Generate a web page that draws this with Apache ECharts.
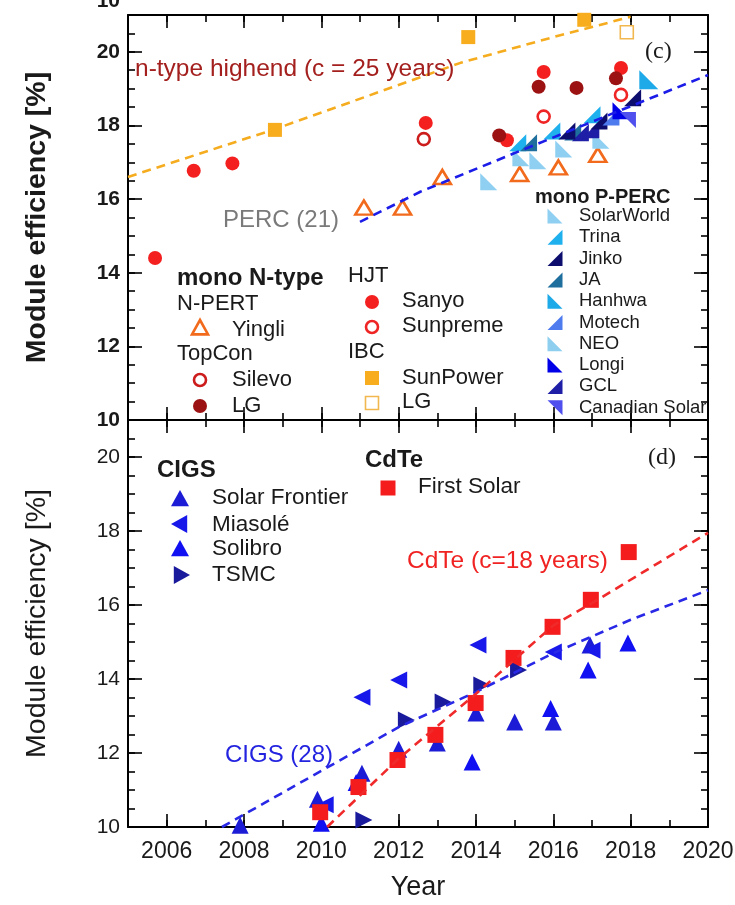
<!DOCTYPE html>
<html>
<head>
<meta charset="utf-8">
<script src="https://cdn.jsdelivr.net/npm/echarts@6/dist/echarts.min.js"></script>
<style>
  html, body { margin: 0; padding: 0; background: #fff; }
  #chart { width: 735px; height: 905px; }
</style>
</head>
<body>
<div id="chart"></div>
<script>
// ---------- tick labels ----------
const yearTicks = [2006, 2008, 2010, 2012, 2014, 2016, 2018, 2020];
const effTicks = [10, 12, 14, 16, 18, 20];

// ---------- panel (c): crystalline silicon modules, [year, efficiency %] ----------
const sanyo = [[2005.7, 14.4], [2006.7, 16.77], [2007.7, 16.97], [2012.7, 18.07], [2014.8, 17.6], [2015.75, 19.45], [2017.75, 19.56]];
const sunpreme = [[2015.75, 18.24], [2017.75, 18.83]];
const silevo = [[2012.65, 17.63]];
const lgTopCon = [[2014.6, 17.73], [2015.62, 19.05], [2016.6, 19.02], [2017.62, 19.28]];
const sunPower = [[2008.8, 17.88], [2013.8, 20.4], [2016.8, 20.87]];
const lgIbc = [[2017.9, 20.53]];
const yingli = [[2011.1, 15.77], [2012.1, 15.77], [2013.13, 16.6], [2015.13, 16.68], [2016.13, 16.86], [2017.15, 17.2]];

const solarWorld = [[2014.33, 16.47], [2015.6, 17.04], [2016.27, 17.36], [2017.23, 17.6]];
const trina = [[2015.08, 17.53], [2015.96, 17.85], [2017.0, 18.29]];
const jinko = [[2016.35, 17.85], [2017.18, 18.12], [2018.05, 18.75]];
const ja = [[2015.36, 17.53], [2016.5, 17.82]];
const hanhwa = [[2018.47, 19.24]];
const motech = [[2017.49, 18.23]];
const neo = [[2015.16, 17.12]];
const longi = [[2017.75, 18.4]];
const gcl = [[2016.7, 17.8], [2016.97, 17.88]];
const canadianSolar = [[2017.93, 18.15]];

const nTypeTrend = [[2005, 16.6], [2008.8, 17.9], [2013.6, 19.7], [2016, 20.4], [2018, 20.95]];
const percTrend = [[2011, 15.38], [2012.56, 16.2], [2015, 17.25], [2020, 19.37]];

// ---------- panel (d): thin-film modules ----------
const firstSolar = [[2009.97, 10.4], [2010.96, 11.08], [2011.97, 11.81], [2012.95, 12.49], [2013.99, 13.35], [2014.97, 14.57], [2015.98, 15.41], [2016.97, 16.14], [2017.95, 17.43]];
const solarFrontier = [[2007.9, 10.05], [2009.9, 10.75], [2011.05, 11.45], [2012.0, 12.1], [2013.0, 12.27], [2014.0, 13.08], [2015.0, 12.84], [2016.0, 12.84], [2016.95, 14.92]];
const solibro = [[2010.0, 10.1], [2010.9, 11.2], [2013.9, 11.76], [2015.93, 13.2], [2016.9, 14.24], [2017.93, 14.97]];
const miasole = [[2010.1, 10.6], [2011.05, 13.51], [2012.0, 13.97], [2014.05, 14.92], [2016.0, 14.73], [2017.0, 14.78]];
const tsmc = [[2011.1, 10.19], [2012.2, 12.89], [2013.15, 13.38], [2014.15, 13.84], [2015.1, 14.24]];

const cdteTrend = [[2010.15, 10.0], [2012, 11.85], [2014, 13.6], [2016, 15.45], [2017, 16.05], [2020, 17.95]];
const cigsTrend = [[2007.43, 10.0], [2012, 12.7], [2014, 13.65], [2016, 14.7], [2018, 15.6], [2020, 16.4]];

// ---------- styling helpers ----------
const FONT = '"Liberation Sans", Arial, Helvetica, sans-serif';
const SERIF = '"Liberation Serif", "Times New Roman", serif';
const RIGHT_TRI = {
  bl: 'path://M0,0L0,10L10,10Z',
  br: 'path://M10,0L10,10L0,10Z',
  tr: 'path://M0,0L10,0L10,10Z'
};

function panelAxes(grid, bold, withYears) {
  const line = { show: true, onZero: false, lineStyle: { color: '#000', width: 2 } };
  const noLine = { show: false, onZero: false };
  const tick = (len, vals) => Object.assign({ show: true, inside: true, length: len, lineStyle: { color: '#000', width: 1.6 } }, vals ? { customValues: vals } : {});
  const xs = [], ys = [];
  ['bottom', 'top'].forEach(pos => {
    xs.push({ type: 'value', gridIndex: grid, position: pos, min: 2005, max: 2020, interval: 1,
      axisLine: line, axisTick: tick(7), axisLabel: { show: false }, splitLine: { show: false } });
    const major = { type: 'value', gridIndex: grid, position: pos, min: 2005, max: 2020, interval: 1,
      axisLine: noLine, axisTick: tick(13, yearTicks), axisLabel: { show: false }, splitLine: { show: false } };
    if (pos === 'bottom' && withYears) {
      major.axisLabel = { show: true, customValues: yearTicks, formatter: v => String(v),
        fontSize: 23, color: '#1a1a1a', fontFamily: FONT, margin: 13 };
      major.name = 'Year';
      major.nameLocation = 'middle';
      major.nameGap = 47;
      major.nameTextStyle = { fontSize: 27, color: '#1a1a1a', fontFamily: FONT };
    }
    xs.push(major);
  });
  ['left', 'right'].forEach(pos => {
    ys.push({ type: 'value', gridIndex: grid, position: pos, min: 10, max: 21, interval: 0.5,
      axisLine: line, axisTick: tick(7), axisLabel: { show: false }, splitLine: { show: false } });
    const major = { type: 'value', gridIndex: grid, position: pos, min: 10, max: 21, interval: 0.5,
      axisLine: noLine, axisTick: tick(14, effTicks), axisLabel: { show: false }, splitLine: { show: false } };
    if (pos === 'left') {
      major.axisLabel = { show: true, customValues: effTicks, fontSize: 21, fontWeight: bold ? 'bold' : 'normal',
        color: '#1a1a1a', fontFamily: FONT, margin: 8 };
      major.name = 'Module efficiency [%]';
      major.nameLocation = 'middle';
      major.nameGap = 76;
      major.nameRotate = 90;
      major.nameTextStyle = { fontSize: 28.5, fontWeight: bold ? 'bold' : 'normal', color: '#1a1a1a', fontFamily: FONT };
    }
    ys.push(major);
  });
  return { xs, ys };
}

function scatter(name, data, axis, symbol, size, color, extra) {
  return Object.assign({
    name, type: 'scatter', data, xAxisIndex: axis, yAxisIndex: axis,
    symbol, symbolSize: size, itemStyle: { color, opacity: 1 }, z: 3, silent: true
  }, extra || {});
}
function hollow(name, data, axis, symbol, size, color, width) {
  return scatter(name, data, axis, symbol, size, color, {
    itemStyle: { color: '#fff', borderColor: color, borderWidth: width, opacity: 1 }
  });
}
function trend(name, data, axis, color, z) {
  return { name, type: 'line', data, xAxisIndex: axis, yAxisIndex: axis, symbol: 'none', silent: true,
    lineStyle: { color, width: 2.6, type: [9, 6] }, z };
}

const axesC = panelAxes(0, true, false);
const axesD = panelAxes(1, false, true);

// x/y axis index of panel (d) starts after the four axes of panel (c)
const P1 = 0, P2 = 4;

const series = [
  trend('n-type highend', nTypeTrend, P1, '#f5ac1f', 2),
  scatter('Sanyo', sanyo, P1, 'circle', 14, '#f41f1f'),
  hollow('Sunpreme', sunpreme, P1, 'circle', 12, '#ef2525', 2.6),
  hollow('Silevo', silevo, P1, 'circle', 12, '#cc1c1c', 2.6),
  scatter('LG TopCon', lgTopCon, P1, 'circle', 14, '#9c1212'),
  scatter('SunPower', sunPower, P1, 'rect', 14, '#f7ad1e'),
  hollow('LG IBC', lgIbc, P1, 'rect', 13, '#f2b850', 1.6),
  hollow('Yingli', yingli, P1, 'triangle', [17, 14], '#f26a1c', 2.6),
  scatter('SolarWorld', solarWorld, P1, RIGHT_TRI.bl, 17, '#8fd0f2'),
  scatter('NEO', neo, P1, RIGHT_TRI.bl, 17, '#8ecff0'),
  scatter('Trina', trina, P1, RIGHT_TRI.br, 17, '#1fb0ee'),
  scatter('JA', ja, P1, RIGHT_TRI.br, 17, '#1f6f9e'),
  scatter('GCL', gcl, P1, RIGHT_TRI.br, 17, '#1e1ea6'),
  scatter('Jinko', jinko, P1, RIGHT_TRI.br, 17, '#0d0d6e'),
  scatter('Motech', motech, P1, RIGHT_TRI.br, 17, '#4e7bee'),
  scatter('Longi', longi, P1, RIGHT_TRI.bl, 17, '#0000e8'),
  scatter('Canadian Solar', canadianSolar, P1, RIGHT_TRI.tr, 16, '#5050ee'),
  scatter('Hanhwa', hanhwa, P1, RIGHT_TRI.bl, 19, '#1ea9e8'),
  trend('PERC', percTrend, P1, '#1c1ce8', 4),

  scatter('Solar Frontier', solarFrontier, P2, 'triangle', 17, '#1c1cd6'),
  scatter('Solibro', solibro, P2, 'triangle', 17, '#1010f2'),
  scatter('Miasolé', miasole, P2, 'triangle', 17, '#1818ea', { symbolRotate: 90 }),
  scatter('First Solar', firstSolar, P2, 'rect', 16, '#f41c1c'),
  scatter('TSMC', tsmc, P2, 'triangle', 17, '#1a1a9c', { symbolRotate: -90 }),
  trend('CIGS', cigsTrend, P2, '#2828e6', 4),
  trend('CdTe', cdteTrend, P2, '#f02a2a', 4)
];

// ---------- legend blocks and annotations ----------
function icon(kind, cx, cy, s, color, empty, lw) {
  const h = s / 2;
  const style = empty ? { fill: '#fff', stroke: color, lineWidth: lw || 2.5 } : { fill: color };
  if (kind === 'circle') return { type: 'circle', shape: { cx, cy, r: h }, style, z: 50 };
  if (kind === 'rect') return { type: 'rect', shape: { x: cx - h, y: cy - h, width: s, height: s }, style, z: 50 };
  const pts = {
    up: [[cx, cy - h], [cx + h, cy + h * 0.8], [cx - h, cy + h * 0.8]],
    left: [[cx - h, cy], [cx + h * 0.8, cy - h], [cx + h * 0.8, cy + h]],
    right: [[cx + h, cy], [cx - h * 0.8, cy - h], [cx - h * 0.8, cy + h]],
    bl: [[cx - h, cy - h], [cx - h, cy + h], [cx + h, cy + h]],
    br: [[cx + h, cy - h], [cx + h, cy + h], [cx - h, cy + h]],
    tr: [[cx - h, cy - h], [cx + h, cy - h], [cx + h, cy + h]]
  }[kind];
  return { type: 'polygon', shape: { points: pts }, style, z: 50 };
}
function label(text, x, y, size, opts) {
  const o = opts || {};
  return { type: 'text', x, y, z: 60, silent: true,
    style: { text, fill: o.color || '#1a1a1a', fontSize: size, fontWeight: o.bold ? 'bold' : 'normal',
      fontFamily: o.family || FONT, align: o.align || 'left', verticalAlign: 'middle' } };
}

const graphics = [
  // label of the panel above, cut at the top edge
  label('10', 120, 1, 21, { bold: true, align: 'right' }),

  label('n-type highend (c = 25 years)', 135, 69, 24.5, { color: '#a3201e' }),
  label('(c)', 645, 52, 24, { family: SERIF }),
  label('PERC (21)', 223, 220, 24, { color: '#7a7a7a' }),

  label('mono N-type', 177, 278, 24, { bold: true }),
  label('N-PERT', 177, 304, 22),
  icon('up', 200, 328, 16, '#f26a1c', true, 2.6), label('Yingli', 232, 330, 22),
  label('TopCon', 177, 354, 22),
  icon('circle', 200, 380, 12, '#cc1c1c', true, 2.6), label('Silevo', 232, 380, 22),
  icon('circle', 200, 406, 14, '#9c1212'), label('LG', 232, 406, 22),

  label('HJT', 348, 276, 22),
  icon('circle', 372, 302, 14, '#f41f1f'), label('Sanyo', 402, 301, 22),
  icon('circle', 372, 327, 12, '#ef2525', true, 2.6), label('Sunpreme', 402, 326, 22),
  label('IBC', 348, 352, 22),
  icon('rect', 372, 378, 14, '#f7ad1e'), label('SunPower', 402, 378, 22),
  icon('rect', 372, 403, 13, '#f2b850', true, 1.6), label('LG', 402, 402, 22),

  label('mono P-PERC', 535, 197, 20, { bold: true })
];
const pPercLegend = [
  ['SolarWorld', 'bl', '#8fd0f2'], ['Trina', 'br', '#1fb0ee'], ['Jinko', 'br', '#0d0d6e'],
  ['JA', 'br', '#1f6f9e'], ['Hanhwa', 'bl', '#1ea9e8'], ['Motech', 'br', '#4e7bee'],
  ['NEO', 'bl', '#8ecff0'], ['Longi', 'bl', '#0000e8'], ['GCL', 'br', '#1e1ea6'],
  ['Canadian Solar', 'tr', '#5050ee']
];
pPercLegend.forEach((item, i) => {
  const y = 216 + i * 21.3;
  graphics.push(icon(item[1], 555, y, 15, item[2]));
  graphics.push(label(item[0], 579, y, 18.5));
});

graphics.push(
  label('CIGS', 157, 470, 24, { bold: true }),
  icon('up', 180, 499, 18, '#1c1cd6'), label('Solar Frontier', 212, 498, 22.5),
  icon('left', 180, 524, 18, '#1818ea'), label('Miasolé', 212, 525, 22.5),
  icon('up', 180, 549, 18, '#1010f2'), label('Solibro', 212, 549, 22.5),
  icon('right', 181, 575, 18, '#1a1a9c'), label('TSMC', 212, 575, 22.5),
  label('CdTe', 365, 460, 24, { bold: true }),
  icon('rect', 388, 488, 15, '#f41c1c'), label('First Solar', 418, 487, 22.5),
  label('(d)', 648, 458, 24, { family: SERIF }),
  label('CdTe (c=18 years)', 407, 561, 24.5, { color: '#f02222' }),
  label('CIGS (28)', 225, 755, 24, { color: '#2424e0' })
);

const chart = echarts.init(document.getElementById('chart'), null, { renderer: 'canvas' });
chart.setOption({
  animation: false,
  backgroundColor: '#fff',
  grid: [
    { left: 128, right: 27, top: 15, height: 405, containLabel: false, outerBoundsMode: 'none' },
    { left: 128, right: 27, top: 420, height: 407, containLabel: false, outerBoundsMode: 'none' }
  ],
  xAxis: axesC.xs.concat(axesD.xs),
  yAxis: axesC.ys.concat(axesD.ys),
  series,
  graphic: graphics
});
</script>
</body>
</html>
